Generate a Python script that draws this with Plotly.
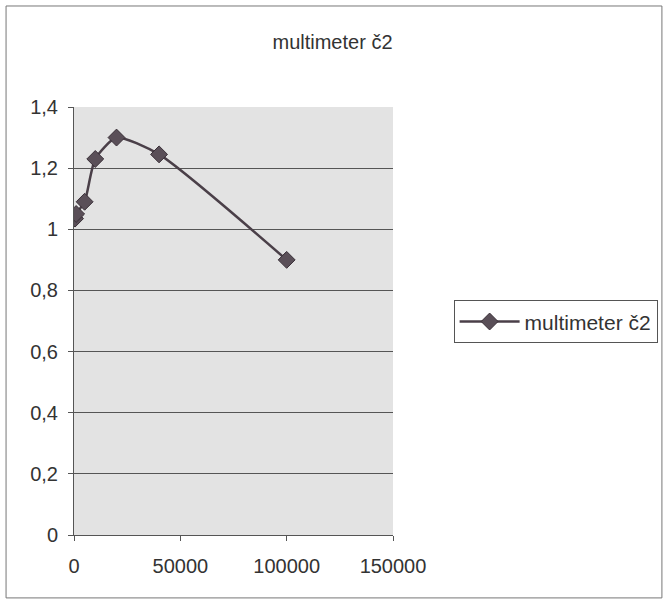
import plotly.graph_objects as go

# measured frequency and reading for multimeter no. 2
freq = [500, 1000, 5000, 10000, 20000, 40000, 100000]
reading = [1.035, 1.05, 1.09, 1.23, 1.30, 1.245, 0.90]
series_name = 'multimeter č2'
y_ticks = [0, 0.2, 0.4, 0.6, 0.8, 1, 1.2, 1.4]
y_labels = ['0', '0,2', '0,4', '0,6', '0,8', '1', '1,2', '1,4']
x_ticks = [0, 50000, 100000, 150000]

fig = go.Figure()

fig.add_trace(go.Scatter(
    x=freq,
    y=reading,
    name=series_name,
    mode='lines+markers',
    line=dict(color='#4a3f48', width=2.5, shape='spline', smoothing=0.6),
    marker=dict(symbol='diamond', size=13, color='#5a4f58', line=dict(color='#3a3038', width=1)),
))

fig.update_layout(
    width=665,
    height=606,
    title=dict(text=series_name, x=0.5, xanchor='center', y=0.931, yanchor='middle',
               font=dict(size=20, color='#333333')),
    font=dict(family='Liberation Sans, Arial, sans-serif', size=20, color='#333333'),
    plot_bgcolor='#e3e3e3',
    paper_bgcolor='white',
    margin=dict(l=74, r=272, t=107, b=71, autoexpand=False),
    showlegend=True,
    legend=dict(x=1.19, y=0.498, xanchor='left', yanchor='middle',
                bordercolor='#555555', borderwidth=1, bgcolor='white',
                itemwidth=60, font=dict(size=21, color='#333333')),
    xaxis=dict(range=[0, 150000], tickvals=x_ticks, ticktext=[str(v) for v in x_ticks],
               showgrid=False, zeroline=False, showline=True, linecolor='#555555',
               ticks='outside', ticklen=5, tickcolor='#555555', ticklabelstandoff=8),
    yaxis=dict(range=[0, 1.4], tickvals=y_ticks, ticktext=y_labels,
               showgrid=True, gridcolor='#555555', gridwidth=1, zeroline=False,
               showline=True, linecolor='#555555',
               ticks='outside', ticklen=5, tickcolor='#555555', ticklabelstandoff=6),
    shapes=[dict(type='rect', xref='paper', yref='paper', x0=-0.213, x1=1.843,
                 y0=-0.147, y1=1.236, line=dict(color='#777777', width=1))],
)

fig.write_html('out.html', config={'displayModeBar': False},
               post_script="document.body.style.margin='0';")
